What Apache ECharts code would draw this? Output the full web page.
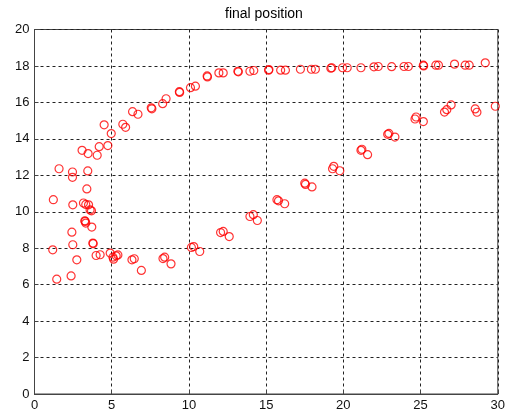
<!DOCTYPE html>
<html>
<head>
<meta charset="utf-8">
<script src="https://cdn.jsdelivr.net/npm/echarts@6/dist/echarts.min.js"></script>
<style>
  html, body { margin: 0; padding: 0; background: #fff; }
  #chart { width: 508px; height: 417px; }
</style>
</head>
<body>
<div id="chart"></div>
<script>
// Final positions, grouped by branch: [x, y]
var upperBranch = [
  [1.22,10.66],[2.48,10.38],[1.59,12.36],[2.46,12.18],[2.46,11.89],[3.45,12.24],
  [3.39,11.25],[3.08,13.37],[3.47,13.19],[4.06,13.10],[4.19,13.57],[4.75,13.63],
  [4.51,14.77],[4.97,14.29],[5.72,14.80],[5.90,14.63],[6.35,15.49],[6.70,15.35],
  [7.56,15.70],[7.60,15.65],[8.30,15.93],[8.52,16.20],[9.38,16.59],[9.40,16.55],
  [10.10,16.81],[10.42,16.89],[11.18,17.45],[11.20,17.40],[11.94,17.62],[12.22,17.62],
  [13.17,17.71],[13.20,17.68],[13.95,17.71],[14.20,17.75],[15.16,17.77],[15.18,17.80],
  [15.94,17.77],[16.25,17.77],[17.22,17.82],[17.93,17.82],[18.19,17.82],[19.19,17.88],
  [19.25,17.90],[19.95,17.90],[20.25,17.90],[21.14,17.90],[21.98,17.95],[22.26,17.97],
  [23.13,17.96],[23.93,17.97],[24.21,17.97],[25.18,18.04],[25.20,18.00],[25.99,18.04],
  [26.16,18.04],[27.20,18.10],[27.89,18.04],[28.15,18.04],[29.19,18.17]
];
var lowerBranch = [
  [4.90,7.73],[5.08,7.51],[5.12,7.40],[5.29,7.58],[5.40,7.63],[6.31,7.36],
  [6.46,7.42],[6.92,6.78],[8.32,7.43],[8.43,7.51],[8.84,7.14],[10.16,8.04],
  [10.31,8.09],[10.70,7.82],[12.05,8.86],[12.22,8.92],[12.61,8.64],[13.95,9.74],
  [14.17,9.84],[14.43,9.52],[15.70,10.66],[15.80,10.60],[16.20,10.44],[17.50,11.57],
  [17.55,11.50],[17.97,11.36],[19.38,12.49],[19.30,12.36],[19.77,12.25],[21.14,13.37],
  [21.20,13.43],[21.57,13.13],[22.87,14.25],[22.95,14.30],[23.34,14.10],[24.71,15.20],
  [24.64,15.09],[25.18,14.95],[26.98,15.86],[26.70,15.60],[26.55,15.47],[28.54,15.64],
  [28.65,15.46],[29.84,15.79]
];
var leftCluster = [
  [3.17,10.48],[3.32,10.40],[3.50,10.38],[3.60,10.10],[3.69,10.05],[3.28,9.47],
  [3.32,9.38],[3.26,9.50],[3.71,9.16],[2.42,8.88],[2.48,8.19],[3.78,8.28],
  [3.80,8.25],[1.18,7.91],[2.74,7.36],[1.44,6.30],[2.37,6.48],[3.99,7.60],[4.25,7.64]
];
var xTicks = [0, 5, 10, 15, 20, 25, 30];
var yTicks = [0, 2, 4, 6, 8, 10, 12, 14, 16, 18, 20];

var chart = echarts.init(document.getElementById('chart'), null, { renderer: 'canvas' });

function ringSeries(name, data) {
  return {
    name: name,
    type: 'scatter',
    data: data,
    symbol: 'circle',
    symbolSize: 8,
    itemStyle: { color: 'rgba(0,0,0,0)', borderColor: '#ff0000', borderWidth: 1.2 },
    emphasis: { disabled: true },
    silent: true
  };
}

var axisFont = { color: '#111', fontFamily: 'Liberation Sans, Arial, sans-serif', fontSize: 13 };
var gridLine = { show: true, lineStyle: { color: '#222', type: [3, 3], width: 1 } };

chart.setOption({
  animation: false,
  backgroundColor: '#fff',
  title: {
    text: 'final position',
    left: 225,
    top: 7,
    padding: 0,
    textStyle: { color: '#000', fontWeight: 'normal', fontSize: 14, fontFamily: 'Liberation Sans, Arial, sans-serif' }
  },
  grid: {
    left: 34.5, right: 10, top: 29.5, bottom: 23,
    show: true, borderColor: '#444', borderWidth: 1, backgroundColor: '#fff'
  },
  xAxis: {
    type: 'value',
    min: xTicks[0], max: xTicks[xTicks.length - 1], interval: 5,
    axisLine: { show: true, lineStyle: { color: '#444' } },
    axisTick: { show: true, inside: true, length: 4, lineStyle: { color: '#444' } },
    axisLabel: Object.assign({ margin: 5 }, axisFont),
    splitLine: gridLine
  },
  yAxis: {
    type: 'value',
    min: yTicks[0], max: yTicks[yTicks.length - 1], interval: 2,
    axisLine: { show: true, lineStyle: { color: '#444' } },
    axisTick: { show: true, inside: true, length: 4, lineStyle: { color: '#444' } },
    axisLabel: Object.assign({ margin: 5 }, axisFont),
    splitLine: gridLine
  },
  series: [
    ringSeries('upper', upperBranch),
    ringSeries('lower', lowerBranch),
    ringSeries('cluster', leftCluster)
  ]
});
</script>
</body>
</html>
